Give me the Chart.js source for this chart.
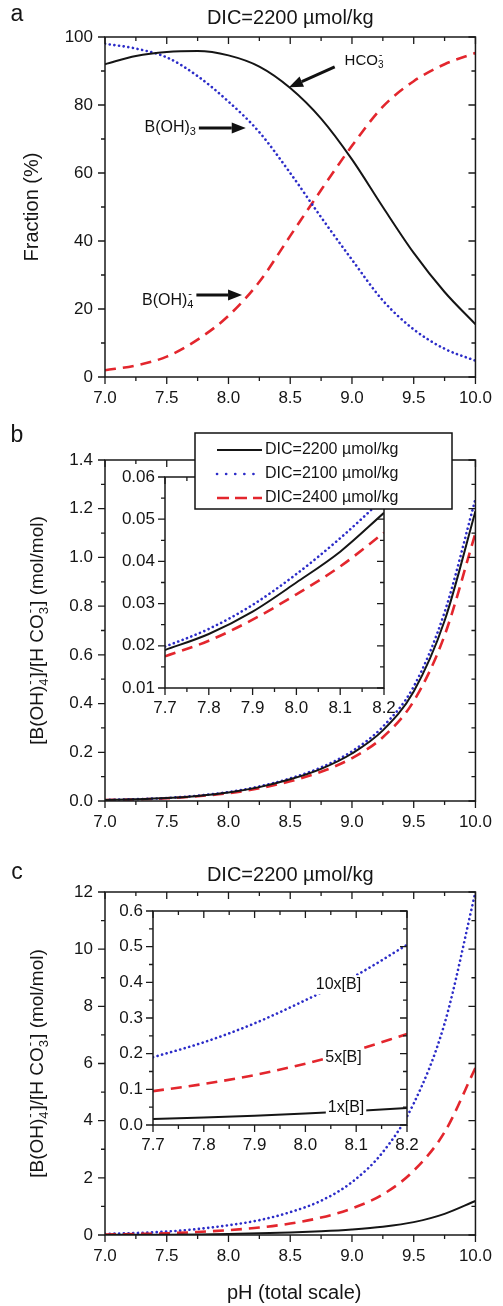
<!DOCTYPE html>
<html>
<head>
<meta charset="utf-8">
<script src="https://cdn.jsdelivr.net/npm/chart.js@4.4.1/dist/chart.umd.min.js"></script>
<style>
  body { margin: 0; background: #fff; }
  #page { position: relative; width: 503px; height: 1306px; overflow: hidden; }
  canvas { position: absolute; }
</style>
</head>
<body>
<div id="page">
  <canvas id="chartA" width="503" height="420" style="left:0;top:0"></canvas>
  <canvas id="chartB" width="503" height="420" style="left:0;top:420px"></canvas>
  <canvas id="insetB" width="370" height="300" style="left:100px;top:425px"></canvas>
  <canvas id="chartC" width="503" height="466" style="left:0;top:840px"></canvas>
  <canvas id="insetC" width="330" height="280" style="left:100px;top:890px"></canvas>
</div>
<script>
// pH waarden van de hoofdgrafieken en de inzetjes
const phMain = [7.0, 7.25, 7.5, 7.75, 8.0, 8.25, 8.5, 8.75, 9.0, 9.25, 9.5, 9.75, 10.0];
const phInset = [7.7, 7.8, 7.9, 8.0, 8.1, 8.2];

// paneel a: fracties (%)
const fracHCO3 = [92, 94.4, 95.6, 95.9, 94.6, 91.3, 85, 76, 64, 50, 36.5, 25, 15.5];
const fracBOH3 = [98, 96.6, 94, 88.5, 81, 72, 60, 47, 34.5, 22.5, 14, 8.3, 4.8];
const fracBOH4 = [2, 3.4, 6, 11, 18, 28, 41.5, 55, 68, 79.5, 87, 92, 95.3];

// paneel b: [B(OH)4-]/[HCO3-] voor drie DIC waarden
const ratio2200 = [0.004, 0.007, 0.012, 0.021, 0.035, 0.057, 0.089, 0.132, 0.195, 0.29, 0.45, 0.74, 1.19];
const ratio2100 = [0.0042, 0.0074, 0.0126, 0.022, 0.0367, 0.06, 0.093, 0.138, 0.204, 0.305, 0.47, 0.775, 1.24];
const ratio2400 = [0.0037, 0.0065, 0.011, 0.0195, 0.0322, 0.052, 0.081, 0.12, 0.176, 0.262, 0.41, 0.68, 1.10];
const inset2200 = [0.019, 0.0228, 0.0281, 0.035, 0.0423, 0.0515];
const inset2100 = [0.0198, 0.024, 0.0297, 0.037, 0.0455, 0.055];
const inset2400 = [0.0175, 0.0212, 0.0262, 0.0322, 0.0388, 0.0468];

// paneel c: 1x, 5x en 10x boor
const ratioB1x = [0.004, 0.007, 0.012, 0.021, 0.035, 0.057, 0.089, 0.132, 0.195, 0.29, 0.45, 0.74, 1.19];
const ratioB5x = [0.02, 0.035, 0.06, 0.105, 0.17, 0.26, 0.4, 0.61, 0.93, 1.42, 2.25, 3.6, 5.85];
const ratioB10x = [0.04, 0.07, 0.12, 0.21, 0.34, 0.52, 0.8, 1.2, 1.85, 2.9, 4.6, 7.4, 12];
const insetB1x = [0.017, 0.021, 0.026, 0.032, 0.039, 0.048];
const insetB5x = [0.095, 0.115, 0.14, 0.172, 0.21, 0.255];
const insetB10x = [0.19, 0.232, 0.285, 0.35, 0.42, 0.505];

const dicLabels = ['DIC=2200 \u00b5mol/kg', 'DIC=2100 \u00b5mol/kg', 'DIC=2400 \u00b5mol/kg'];
const boronLabels = ['1x[B]', '5x[B]', '10x[B]'];

const FONT = "'Liberation Sans', Arial, Helvetica, sans-serif";
Chart.defaults.font.family = FONT;
Chart.defaults.color = '#151515';

const BLACK = '#151515', BLUE = '#2c2cc8', RED = '#e3262d';

// maakt een lijn-dataset van twee arrays
function series(label, xs, ys, kind) {
  const ds = {
    label: label,
    data: xs.map((x, i) => ({ x: x, y: ys[i] })),
    pointRadius: 0, fill: false, cubicInterpolationMode: 'monotone'
  };
  if (kind === 'solid') Object.assign(ds, { borderColor: BLACK, borderWidth: 2 });
  if (kind === 'dot') Object.assign(ds, { borderColor: BLUE, borderWidth: 2.6, borderDash: [0.1, 4.6], borderCapStyle: 'round' });
  if (kind === 'dash') Object.assign(ds, { borderColor: RED, borderWidth: 2.6, borderDash: [11, 7] });
  return ds;
}

// assen met vaste maten zodat het plotvlak op de goede plek komt
function axes(o) {
  return {
    x: {
      type: 'linear', min: o.xMin, max: o.xMax,
      grid: { display: false, drawTicks: false }, border: { display: false },
      ticks: { stepSize: o.xStep, padding: o.xPad, autoSkip: false, maxRotation: 0, color: '#151515',
        font: { size: 17 }, callback: v => Number(v).toFixed(1) },
      afterFit: s => { s.height = o.canvasH - o.bottom; }
    },
    y: {
      type: 'linear', min: o.yMin, max: o.yMax,
      grid: { display: false, drawTicks: false }, border: { display: false },
      ticks: { stepSize: o.yStep, padding: o.yPad, autoSkip: false, color: '#151515',
        font: { size: 17 }, callback: v => Number(v).toFixed(o.yDigits) },
      afterFit: s => { s.width = o.left; }
    }
  };
}

// tekst met sub- en superscript
function richWidth(ctx, parts, size) {
  let w = 0;
  for (const p of parts) {
    if (typeof p === 'string') {
      ctx.font = size + 'px ' + FONT;
      w += ctx.measureText(p).width;
    } else {
      ctx.font = Math.round(size * 0.68) + 'px ' + FONT;
      w += Math.max(ctx.measureText(p.sub || '').width, ctx.measureText(p.sup || '').width) + 1;
    }
  }
  return w;
}
function drawRich(ctx, parts, x, y, size) {
  ctx.textAlign = 'left';
  ctx.textBaseline = 'middle';
  let cx = x;
  for (const p of parts) {
    if (typeof p === 'string') {
      ctx.font = size + 'px ' + FONT;
      ctx.fillText(p, cx, y);
      cx += ctx.measureText(p).width;
    } else {
      ctx.font = Math.round(size * 0.68) + 'px ' + FONT;
      if (p.sup) ctx.fillText(p.sup, cx + 1, y - size * 0.4);
      if (p.sub) ctx.fillText(p.sub, cx, y + size * 0.32);
      cx += Math.max(ctx.measureText(p.sub || '').width, ctx.measureText(p.sup || '').width) + 1;
    }
  }
}

function arrow(ctx, x1, y1, x2, y2) {
  const ang = Math.atan2(y2 - y1, x2 - x1), L = 14, W = 5.5;
  const bx = x2 - L * Math.cos(ang), by = y2 - L * Math.sin(ang);
  ctx.lineWidth = 3;
  ctx.beginPath(); ctx.moveTo(x1, y1); ctx.lineTo(bx, by); ctx.stroke();
  ctx.beginPath();
  ctx.moveTo(x2, y2);
  ctx.lineTo(bx - W * Math.sin(ang), by + W * Math.cos(ang));
  ctx.lineTo(bx + W * Math.sin(ang), by - W * Math.cos(ang));
  ctx.closePath(); ctx.fill();
}

// kader met tickjes (links/onder naar buiten, boven/rechts naar binnen)
const framePlugin = {
  id: 'frame',
  beforeDraw(chart, args, o) {
    if (!o.fill) return;
    const a = chart.chartArea, ctx = chart.ctx;
    ctx.save(); ctx.fillStyle = '#fff';
    ctx.fillRect(a.left, a.top, a.right - a.left, a.bottom - a.top);
    ctx.restore();
  },
  afterDraw(chart, args, o) {
    const ctx = chart.ctx, a = chart.chartArea, xs = chart.scales.x, ys = chart.scales.y;
    ctx.save();
    ctx.strokeStyle = '#1a1a1a';
    ctx.lineWidth = 1.5;
    ctx.strokeRect(a.left, a.top, a.right - a.left, a.bottom - a.top);
    ctx.lineWidth = 1.3;
    ctx.beginPath();
    const nx = Math.round((xs.max - xs.min) / o.xMinor), kx = Math.round(o.xMajor / o.xMinor);
    for (let i = 0; i <= nx; i++) {
      const px = xs.getPixelForValue(xs.min + i * o.xMinor);
      const len = i % kx === 0 ? 7 : 4;
      ctx.moveTo(px, a.bottom); ctx.lineTo(px, a.bottom + len);
      ctx.moveTo(px, a.top); ctx.lineTo(px, a.top + len);
    }
    const ny = Math.round((ys.max - ys.min) / o.yMinor), ky = Math.round(o.yMajor / o.yMinor);
    for (let i = 0; i <= ny; i++) {
      const py = ys.getPixelForValue(ys.min + i * o.yMinor);
      const len = i % ky === 0 ? 7 : 4;
      ctx.moveTo(a.left - len, py); ctx.lineTo(a.left, py);
      ctx.moveTo(a.right - len, py); ctx.lineTo(a.right, py);
    }
    ctx.stroke();
    ctx.restore();
  }
};

// letter, astitels
const panelPlugin = {
  id: 'panel',
  afterDraw(chart, args, o) {
    const ctx = chart.ctx, a = chart.chartArea;
    ctx.save();
    ctx.fillStyle = '#151515';
    if (o.letter) {
      ctx.font = '23px ' + FONT; ctx.textAlign = 'center'; ctx.textBaseline = 'middle';
      ctx.fillText(o.letter, o.letterX, o.letterY);
    }
    if (o.yTitle) {
      const w = richWidth(ctx, o.yTitle, o.yTitleSize);
      ctx.save();
      ctx.translate(o.yTitleX, (a.top + a.bottom) / 2);
      ctx.rotate(-Math.PI / 2);
      drawRich(ctx, o.yTitle, -w / 2, 0, o.yTitleSize);
      ctx.restore();
    }
    if (o.xTitle) {
      ctx.font = '20px ' + FONT; ctx.textAlign = 'center'; ctx.textBaseline = 'middle';
      ctx.fillText(o.xTitle, (a.left + a.right) / 2 + 4, o.xTitleY);
    }
    ctx.restore();
  }
};

// pijlen en labels in data-coordinaten
const notesPlugin = {
  id: 'notes',
  afterDatasetsDraw(chart, args, o) {
    const ctx = chart.ctx, xs = chart.scales.x, ys = chart.scales.y;
    ctx.save();
    ctx.fillStyle = '#111'; ctx.strokeStyle = '#111';
    for (const n of o.items || []) {
      if (n.from) {
        arrow(ctx, xs.getPixelForValue(n.from[0]), ys.getPixelForValue(n.from[1]),
          xs.getPixelForValue(n.to[0]), ys.getPixelForValue(n.to[1]));
      }
      const px = xs.getPixelForValue(n.at[0]), py = ys.getPixelForValue(n.at[1]);
      const w = richWidth(ctx, n.text, n.size);
      const x0 = n.center ? px - w / 2 : px;
      if (n.box) {
        ctx.fillStyle = '#fff';
        ctx.fillRect(x0 - 2, py - n.size * 0.6, w + 4, n.size * 1.2);
        ctx.fillStyle = '#111';
      }
      drawRich(ctx, n.text, x0, py, n.size);
    }
    ctx.restore();
  }
};

// legenda in een kader
const boxLegend = {
  id: 'boxLegend',
  afterDraw(chart, args, o) {
    const ctx = chart.ctx;
    ctx.save();
    ctx.fillStyle = '#fff'; ctx.fillRect(o.x, o.y, o.w, o.h);
    ctx.strokeStyle = '#111'; ctx.lineWidth = 1.5; ctx.strokeRect(o.x, o.y, o.w, o.h);
    chart.data.datasets.forEach((ds, i) => {
      const y = o.y + o.rowTop + i * o.rowGap;
      ctx.strokeStyle = ds.borderColor; ctx.lineWidth = ds.borderWidth;
      ctx.lineCap = ds.borderCapStyle || 'butt';
      ctx.setLineDash(o.dashes[i]);
      ctx.beginPath(); ctx.moveTo(o.x + o.s0, y); ctx.lineTo(o.x + o.s1, y); ctx.stroke();
      ctx.setLineDash([]);
      ctx.fillStyle = '#151515'; ctx.font = '16px ' + FONT;
      ctx.textAlign = 'left'; ctx.textBaseline = 'middle';
      ctx.fillText(ds.label, o.x + o.textX, y);
    });
    ctx.restore();
  }
};

const ratioTitle = ['[B(OH)', { sub: '4', sup: '-' }, ']/[H CO', { sub: '3', sup: '-' }, '] (mol/mol)'];
const baseOpts = { responsive: false, animation: false, devicePixelRatio: 1, events: [] };

// Paneel a
new Chart(document.getElementById('chartA'), {
  type: 'line',
  data: { datasets: [
    series('HCO3-', phMain, fracHCO3, 'solid'),
    series('B(OH)3', phMain, fracBOH3, 'dot'),
    series('B(OH)4-', phMain, fracBOH4, 'dash')
  ] },
  options: Object.assign({}, baseOpts, {
    layout: { padding: { top: 0, right: 19, left: 0, bottom: 0 } },
    scales: axes({ xMin: 7, xMax: 10, xStep: 0.5, yMin: 0, yMax: 100, yStep: 20, yDigits: 0,
      left: 105, bottom: 377, canvasH: 420, xPad: 11, yPad: 12 }),
    plugins: {
      legend: { display: false }, tooltip: { enabled: false },
      title: { display: true, text: dicLabels[0], fullSize: false, color: '#151515',
        font: { size: 20, weight: 'normal' }, padding: { top: 6, bottom: 7 } },
      frame: { xMajor: 0.5, xMinor: 0.25, yMajor: 20, yMinor: 10 },
      panel: { letter: 'a', letterX: 17, letterY: 15, yTitle: ['Fraction (%)'], yTitleSize: 20, yTitleX: 32 },
      notes: { items: [
        { text: ['HCO', { sub: '3', sup: '-' }], at: [8.94, 93], size: 15, from: [8.86, 91.2], to: [8.49, 85.2] },
        { text: ['B(OH)', { sub: '3' }], at: [7.32, 73.5], size: 16, from: [7.76, 73.2], to: [8.14, 73.2] },
        { text: ['B(OH)', { sub: '4', sup: '-' }], at: [7.30, 22.6], size: 16, from: [7.74, 24.1], to: [8.11, 24.1] }
      ] }
    }
  }),
  plugins: [framePlugin, notesPlugin, panelPlugin]
});

// Paneel b
new Chart(document.getElementById('chartB'), {
  type: 'line',
  data: { datasets: [
    series(dicLabels[0], phMain, ratio2200, 'solid'),
    series(dicLabels[1], phMain, ratio2100, 'dot'),
    series(dicLabels[2], phMain, ratio2400, 'dash')
  ] },
  options: Object.assign({}, baseOpts, {
    layout: { padding: { top: 40, right: 19, left: 0, bottom: 0 } },
    scales: axes({ xMin: 7, xMax: 10, xStep: 0.5, yMin: 0, yMax: 1.4, yStep: 0.2, yDigits: 1,
      left: 105, bottom: 381, canvasH: 420, xPad: 11, yPad: 12 }),
    plugins: {
      legend: { display: false }, tooltip: { enabled: false },
      frame: { xMajor: 0.5, xMinor: 0.25, yMajor: 0.2, yMinor: 0.1 },
      panel: { letter: 'b', letterX: 17, letterY: 16, yTitle: ratioTitle, yTitleSize: 19, yTitleX: 38 }
    }
  }),
  plugins: [framePlugin, panelPlugin]
});

// inzet van b met legenda
new Chart(document.getElementById('insetB'), {
  type: 'line',
  data: { datasets: [
    series(dicLabels[0], phInset, inset2200, 'solid'),
    series(dicLabels[1], phInset, inset2100, 'dot'),
    series(dicLabels[2], phInset, inset2400, 'dash')
  ] },
  options: Object.assign({}, baseOpts, {
    layout: { padding: { top: 52, right: 86, left: 0, bottom: 0 } },
    scales: axes({ xMin: 7.7, xMax: 8.2, xStep: 0.1, yMin: 0.01, yMax: 0.06, yStep: 0.01, yDigits: 2,
      left: 65, bottom: 263, canvasH: 300, xPad: 10, yPad: 10 }),
    plugins: {
      legend: { display: false }, tooltip: { enabled: false },
      frame: { xMajor: 0.1, xMinor: 0.05, yMajor: 0.01, yMinor: 0.005, fill: true },
      boxLegend: { x: 95, y: 8, w: 257, h: 76, rowTop: 17, rowGap: 24, s0: 22, s1: 67, textX: 70,
        dashes: [[], [0.1, 9], [12, 6]] }
    }
  }),
  plugins: [framePlugin, boxLegend]
});

// Paneel c
new Chart(document.getElementById('chartC'), {
  type: 'line',
  data: { datasets: [
    series(boronLabels[0], phMain, ratioB1x, 'solid'),
    series(boronLabels[1], phMain, ratioB5x, 'dash'),
    series(boronLabels[2], phMain, ratioB10x, 'dot')
  ] },
  options: Object.assign({}, baseOpts, {
    layout: { padding: { top: 0, right: 19, left: 0, bottom: 0 } },
    scales: axes({ xMin: 7, xMax: 10, xStep: 0.5, yMin: 0, yMax: 12, yStep: 2, yDigits: 0,
      left: 105, bottom: 395, canvasH: 466, xPad: 11, yPad: 12 }),
    plugins: {
      legend: { display: false }, tooltip: { enabled: false },
      title: { display: true, text: dicLabels[0], fullSize: false, color: '#151515',
        font: { size: 20, weight: 'normal' }, padding: { top: 23, bottom: 5 } },
      frame: { xMajor: 0.5, xMinor: 0.25, yMajor: 2, yMinor: 1 },
      panel: { letter: 'c', letterX: 17, letterY: 33, yTitle: ratioTitle, yTitleSize: 19, yTitleX: 38,
        xTitle: 'pH (total scale)', xTitleY: 453 }
    }
  }),
  plugins: [framePlugin, panelPlugin]
});

// inzet van c
new Chart(document.getElementById('insetC'), {
  type: 'line',
  data: { datasets: [
    series(boronLabels[0], phInset, insetB1x, 'solid'),
    series(boronLabels[1], phInset, insetB5x, 'dash'),
    series(boronLabels[2], phInset, insetB10x, 'dot')
  ] },
  options: Object.assign({}, baseOpts, {
    layout: { padding: { top: 21, right: 23, left: 0, bottom: 0 } },
    scales: axes({ xMin: 7.7, xMax: 8.2, xStep: 0.1, yMin: 0, yMax: 0.6, yStep: 0.1, yDigits: 1,
      left: 53, bottom: 235, canvasH: 280, xPad: 10, yPad: 10 }),
    plugins: {
      legend: { display: false }, tooltip: { enabled: false },
      frame: { xMajor: 0.1, xMinor: 0.05, yMajor: 0.1, yMinor: 0.05, fill: true },
      notes: { items: [
        { text: [boronLabels[2]], at: [8.065, 0.393], size: 16, center: true, box: true },
        { text: [boronLabels[1]], at: [8.075, 0.19], size: 16, center: true, box: true },
        { text: [boronLabels[0]], at: [8.08, 0.05], size: 16, center: true, box: true }
      ] }
    }
  }),
  plugins: [framePlugin, notesPlugin]
});
</script>
</body>
</html>
